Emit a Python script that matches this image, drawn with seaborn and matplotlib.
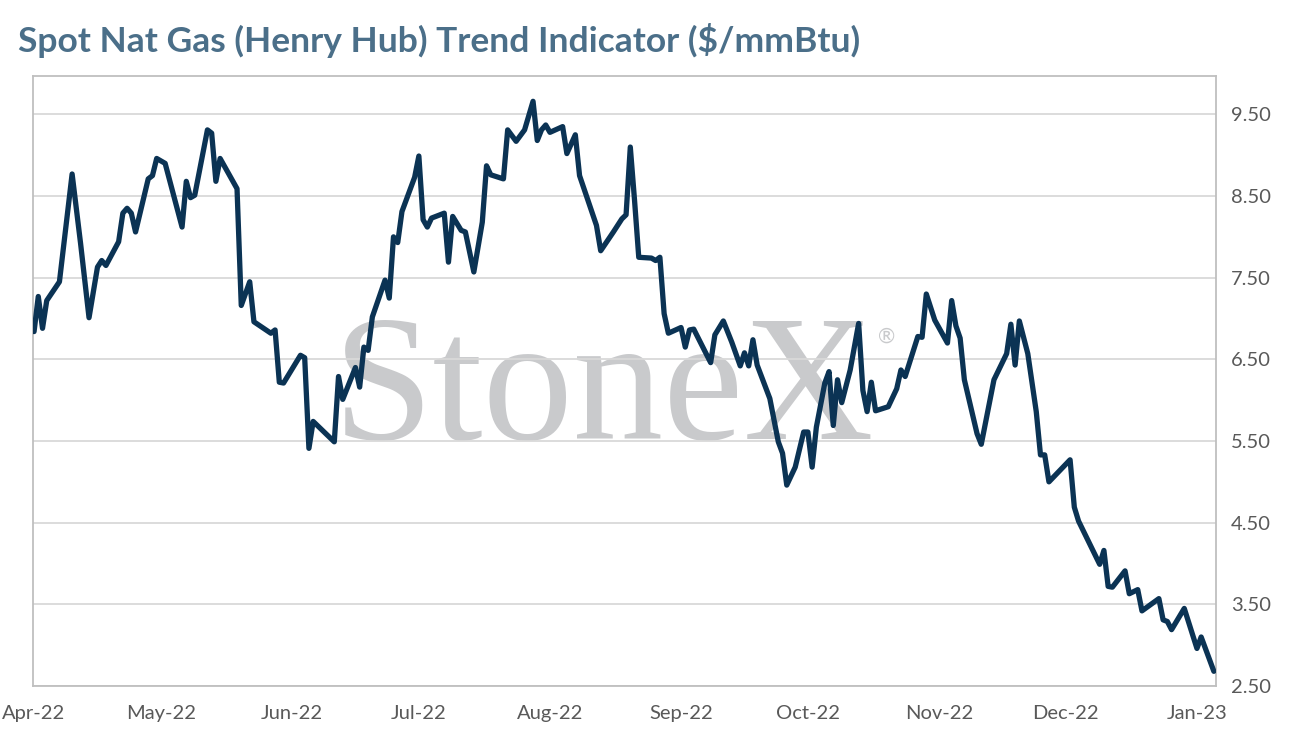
import matplotlib
matplotlib.use("Agg")
import matplotlib.pyplot as plt
import matplotlib.dates as mdates
from matplotlib.ticker import FormatStrFormatter
import seaborn as sns
import pandas as pd

# vertices of the trend line
# (days counted from 1 Apr 2022, indicator in $/mmBtu)
start_date = "2022-04-01"
day_offsets = [
    0, 1, 2, 3, 6, 9, 11, 13, 15, 16, 17, 20, 21, 22, 23, 24, 27, 28, 29, 31,
    35, 36, 37, 38, 41, 42, 43, 44, 48, 49, 51, 52, 56, 57, 58, 59, 63, 64, 65, 66,
    71, 72, 73, 76, 77, 78, 79, 80, 83, 84, 85, 86, 87, 90, 91, 92, 93, 94, 97, 98,
    99, 101, 102, 104, 106, 107, 108, 111, 112, 114, 116, 118, 119, 120, 121, 122, 125, 126, 128, 129,
    133, 134, 137, 139, 140, 141, 142, 143, 146, 147, 148, 149, 150, 153, 154, 155, 156, 160, 161, 163,
    165, 167, 168, 169, 170, 171, 174, 176, 177, 178, 180, 182, 183, 184, 185, 187, 188, 189, 190, 191,
    193, 195, 196, 197, 198, 199, 202, 204, 205, 206, 209, 210, 211, 213, 216, 217, 218, 219, 220, 223,
    224, 227, 230, 231, 232, 233, 235, 237, 238, 239, 240, 245, 246, 247, 252, 253, 254, 255, 258, 259,
    261, 262, 266, 267, 268, 269, 272, 275, 276, 279,
]
trend_values = [
    6.84, 7.27, 6.88, 7.22, 7.45, 8.77, 7.92, 7.01, 7.63, 7.71, 7.65, 7.94, 8.29, 8.35, 8.29, 8.06, 8.71, 8.75, 8.96, 8.90,
    8.12, 8.68, 8.48, 8.51, 9.31, 9.27, 8.68, 8.96, 8.59, 7.16, 7.45, 6.96, 6.82, 6.86, 6.22, 6.21, 6.55, 6.52, 5.41, 5.74,
    5.49, 6.29, 6.01, 6.40, 6.16, 6.65, 6.61, 7.02, 7.47, 7.25, 8.00, 7.93, 8.31, 8.73, 8.99, 8.21, 8.12, 8.23, 8.29, 7.69,
    8.25, 8.08, 8.06, 7.57, 8.18, 8.87, 8.76, 8.71, 9.31, 9.17, 9.31, 9.66, 9.18, 9.31, 9.37, 9.28, 9.35, 9.02, 9.25, 8.75,
    8.14, 7.83, 8.06, 8.22, 8.27, 9.10, 8.45, 7.75, 7.74, 7.71, 7.75, 7.06, 6.82, 6.89, 6.65, 6.86, 6.87, 6.46, 6.80, 6.97,
    6.71, 6.42, 6.58, 6.42, 6.74, 6.43, 6.02, 5.49, 5.35, 4.96, 5.18, 5.61, 5.61, 5.18, 5.67, 6.21, 6.35, 5.69, 6.25, 5.97,
    6.37, 6.94, 6.12, 5.86, 6.22, 5.87, 5.92, 6.14, 6.37, 6.29, 6.78, 6.77, 7.30, 6.98, 6.70, 7.22, 6.91, 6.76, 6.25, 5.59,
    5.46, 6.25, 6.57, 6.93, 6.43, 6.97, 6.57, 5.86, 5.33, 5.33, 5.00, 5.27, 4.69, 4.52, 3.99, 4.16, 3.72, 3.71, 3.91, 3.63,
    3.68, 3.42, 3.57, 3.31, 3.29, 3.19, 3.45, 2.96, 3.10, 2.68,
]
y_ticks = [2.5, 3.5, 4.5, 5.5, 6.5, 7.5, 8.5, 9.5]

df = pd.DataFrame({
    "date": pd.Timestamp(start_date) + pd.to_timedelta(day_offsets, unit="D"),
    "value": trend_values,
})

sns.set_style("white")
plt.rcParams["font.family"] = ["Lato", "DejaVu Sans"]

fig = plt.figure(figsize=(12.94, 7.45), dpi=100)
ax = fig.add_axes([0.0255, 0.0792, 0.9142, 0.8188])

# watermark
ax.text(0.482, 0.405, "StoneX", transform=ax.transAxes, ha="center", va="baseline",
        fontsize=130, family="Liberation Serif", color="#c9cacc", zorder=0)
ax.text(0.7215, 0.572, "\u00ae", transform=ax.transAxes, ha="center", va="center",
        fontsize=15, color="#c9cacc", zorder=0)

sns.lineplot(data=df, x="date", y="value", ax=ax, color="#0b3354",
             linewidth=3.8, zorder=3)

ax.set_xlim(df["date"].iloc[0] - pd.Timedelta(hours=6),
            df["date"].iloc[-1] + pd.Timedelta(hours=12))
ax.set_ylim(2.5, 9.97)
ax.set_yticks(y_ticks)
ax.yaxis.set_major_formatter(FormatStrFormatter("%.2f"))
ax.yaxis.tick_right()
ax.xaxis.set_major_locator(mdates.MonthLocator())
ax.xaxis.set_major_formatter(mdates.DateFormatter("%b-%y"))

ax.grid(axis="y", color="#d9d9d9", linewidth=1.3, zorder=1)
ax.set_axisbelow(True)
for side in ["left", "right", "top", "bottom"]:
    ax.spines[side].set_color("#bfbfbf")
    ax.spines[side].set_linewidth(1.3)

ax.tick_params(axis="both", length=0, labelsize=14.5, labelcolor="#595959")
ax.tick_params(axis="y", pad=11)
ax.tick_params(axis="x", pad=14)
ax.set_xlabel("")
ax.set_ylabel("")

fig.text(0.014, 0.946, "Spot Nat Gas (Henry Hub) Trend Indicator ($/mmBtu)",
         fontsize=25.5, fontweight="bold", color="#4b6f89", ha="left", va="center")

fig.savefig("out.png", dpi=100, facecolor="white")
